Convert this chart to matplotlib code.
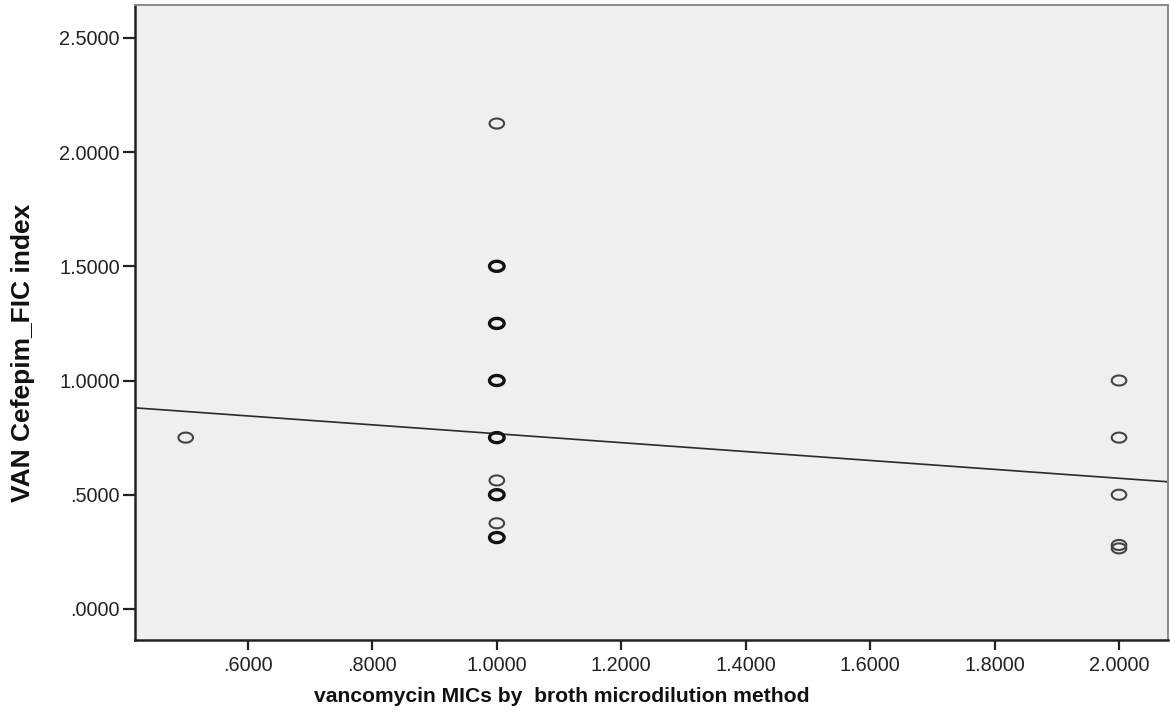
import matplotlib
matplotlib.use("Agg")
import matplotlib.pyplot as plt
import numpy as np
from matplotlib.path import Path
from matplotlib.ticker import FuncFormatter

# ---- data ----
x_mic = [0.5, 1.0, 1.0, 1.0, 1.0, 1.0, 1.0, 1.0, 1.0, 1.0, 2.0, 2.0, 2.0, 2.0, 2.0]
y_fic = [0.75, 2.125, 1.5, 1.25, 1.0, 0.75, 0.5625, 0.5, 0.375, 0.3125,
         1.0, 0.75, 0.5, 0.28, 0.265]
# overlapping cases (drawn darker / bolder)
counts = [1, 1, 3, 3, 3, 3, 1, 3, 1, 3, 1, 1, 1, 1, 1]
# fitted line: y = intercept + slope * x
fit_intercept = 0.962
fit_slope = -0.195

x_ticks = [0.6, 0.8, 1.0, 1.2, 1.4, 1.6, 1.8, 2.0]
y_ticks = [0.0, 0.5, 1.0, 1.5, 2.0, 2.5]
x_label = "vancomycin MICs by  broth microdilution method"
y_label = "VAN Cefepim_FIC index"

# ---- figure ----
W, H = 1170, 713
fig = plt.figure(figsize=(W / 100, H / 100), dpi=100)
ax = fig.add_axes([135 / W, 1 - 640 / H, (1168 - 135) / W, (640 - 5) / H])
ax.set_facecolor("#efefef")

xlim = (0.4185, 2.0787)
ylim = (-0.136, 2.644)
ax.set_xlim(*xlim)
ax.set_ylim(*ylim)

# elliptical open marker (wider than tall)
t = np.linspace(0, 2 * np.pi, 60)
verts = np.column_stack([1.45 * np.cos(t), np.sin(t)])
ell = Path(verts, closed=True)

xs = np.array(x_mic)
ys = np.array(y_fic)
cs = np.array(counts)
single = cs == 1
multi = cs > 1
ax.scatter(xs[single], ys[single], marker=ell, s=110, facecolors="none",
           edgecolors="#444444", linewidths=1.5, zorder=3)
ax.scatter(xs[multi], ys[multi], marker=ell, s=110, facecolors="none",
           edgecolors="#111111", linewidths=2.4, zorder=3)

lx = np.array(xlim)
ax.plot(lx, fit_intercept + fit_slope * lx, color="#2a2a2a", lw=1.2, zorder=2)

ax.set_xticks(x_ticks)
ax.set_yticks(y_ticks)


def fmt(v, pos=None):
    s = f"{v:.4f}"
    if s.startswith("0."):
        s = s[1:]
    return s


ax.xaxis.set_major_formatter(FuncFormatter(fmt))
ax.yaxis.set_major_formatter(FuncFormatter(fmt))

for lab in ax.get_xticklabels() + ax.get_yticklabels():
    lab.set_fontfamily("Liberation Sans")
    lab.set_fontsize(14.3)
    lab.set_color("#222222")
ax.tick_params(axis="x", direction="out", length=7.5, width=1.6, color="#222222", pad=4)
ax.tick_params(axis="y", direction="out", length=9, width=1.6, color="#222222", pad=2)

for side in ("left", "bottom"):
    ax.spines[side].set_color("#222222")
    ax.spines[side].set_linewidth(1.8)
for side in ("top", "right"):
    ax.spines[side].set_color("#8a8a8a")
    ax.spines[side].set_linewidth(1.4)

ax.set_xlabel(x_label, fontfamily="Liberation Sans", fontweight="bold", fontsize=15.2,
              color="#111111", va="center")
ax.xaxis.set_label_coords((562 - 135) / 1033, (640 - 697) / 635)
ax.set_ylabel(y_label, fontfamily="Liberation Sans", fontweight="bold", fontsize=19,
              color="#111111", va="center")
ax.yaxis.set_label_coords((23 - 135) / 1033, (640 - 353) / 635)

fig.savefig("out.png", dpi=100, facecolor="white")
